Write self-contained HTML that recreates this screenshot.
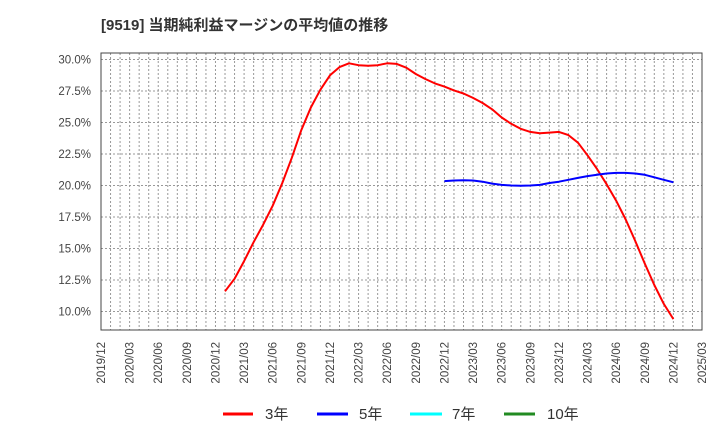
<!DOCTYPE html>
<html><head><meta charset="utf-8"><style>
html,body{margin:0;padding:0;background:#fff;}
svg{display:block;font-family:"Liberation Sans","Noto Sans CJK JP",sans-serif;}
</style></head><body>
<svg id="chart" width="720" height="440" xmlns="http://www.w3.org/2000/svg">
<text x="101" y="30" font-size="15" font-weight="bold" fill="#333">[9519]  当期純利益マージンの平均値の推移</text>
<g id="grid"></g>
<g id="yaxis"></g>
<g id="xaxis"></g>
<g id="series"></g>
<rect x="101" y="53" width="601" height="277" fill="none" stroke="#444" stroke-width="1"/>
<g>
<g><line x1="223" y1="414" x2="253" y2="414" stroke="#ff0000" stroke-width="3"/><text x="265" y="419" font-size="15" fill="#333">3年</text></g>
<g><line x1="317" y1="414" x2="348" y2="414" stroke="#0000ff" stroke-width="3"/><text x="359" y="419" font-size="15" fill="#333">5年</text></g>
<g><line x1="410" y1="414" x2="442" y2="414" stroke="#00ffff" stroke-width="3"/><text x="452" y="419" font-size="15" fill="#333">7年</text></g>
<g><line x1="504" y1="414" x2="535" y2="414" stroke="#228b22" stroke-width="3"/><text x="547" y="419" font-size="15" fill="#333">10年</text></g>
</g>
</svg>
<script>
const yTicks = [10, 12.5, 15, 17.5, 20, 22.5, 25, 27.5, 30];
const xTickLabels = ["2019/12","2020/03","2020/06","2020/09","2020/12","2021/03","2021/06","2021/09","2021/12","2022/03","2022/06","2022/09","2022/12","2023/03","2023/06","2023/09","2023/12","2024/03","2024/06","2024/09","2024/12","2025/03"];
const series3Start = 13; // months after 2019/12
const series3 = [11.6,12.6,14.0,15.5,16.9,18.4,20.2,22.2,24.4,26.2,27.6,28.75,29.4,29.7,29.55,29.5,29.55,29.7,29.65,29.35,28.85,28.45,28.1,27.85,27.55,27.3,26.95,26.55,26.05,25.4,24.9,24.5,24.25,24.15,24.2,24.25,24.0,23.4,22.4,21.3,20.1,18.8,17.3,15.6,13.8,12.1,10.6,9.4];
const series5Start = 36;
const series5 = [20.35,20.4,20.42,20.4,20.3,20.15,20.05,20.0,19.98,20.0,20.05,20.2,20.3,20.45,20.6,20.75,20.85,20.95,21.0,21.0,20.95,20.85,20.65,20.45,20.25];
const NS="http://www.w3.org/2000/svg";
const L=101,R=702,T=53,B=330,totalMonths=63;
const xs=m=>L+(R-L)*m/totalMonths;
const ys=v=>59.5+(30-v)*12.6;
function mk(tag,attrs,parent){const e=document.createElementNS(NS,tag);for(const k in attrs)e.setAttribute(k,attrs[k]);parent.appendChild(e);return e;}
const grid=document.getElementById('grid'),ya=document.getElementById('yaxis'),xa=document.getElementById('xaxis'),sg=document.getElementById('series');
for(let m=1;m<totalMonths;m++){
  const l=mk('line',{x1:xs(m),x2:xs(m),y1:T,y2:B,stroke:'#999','stroke-width':1,'stroke-dasharray':'2,2'},grid);
  
  
}
yTicks.forEach(v=>{
  const l=mk('line',{x1:L,x2:R,y1:ys(v),y2:ys(v),stroke:'#999','stroke-width':1,'stroke-dasharray':'2,2'},grid);
  
  
  const t=mk('text',{x:91,y:ys(v)+4,'text-anchor':'end','font-size':11.5,fill:'#444'},ya);
  t.textContent=v.toFixed(1)+'%';
  
  
});
xTickLabels.forEach((s,i)=>{
  const x=xs(i*3);
  const t=mk('text',{x:0,y:0,transform:`translate(${x+4},${342}) rotate(-90)`,'text-anchor':'end','font-size':11.5,fill:'#444'},xa);
  t.textContent=s;
  
  
});
function drawLine(data,start,color,name){
  const pts=data.map((v,i)=>xs(start+i).toFixed(1)+','+ys(v).toFixed(1)).join(' ');
  const p=mk('polyline',{points:pts,fill:'none',stroke:color,'stroke-width':2,'stroke-linejoin':'round'},sg);
  
  
}
drawLine(series3,series3Start,'#ff0000','series-3y');
drawLine(series5,series5Start,'#0000ff','series-5y');
</script>
</body></html>
